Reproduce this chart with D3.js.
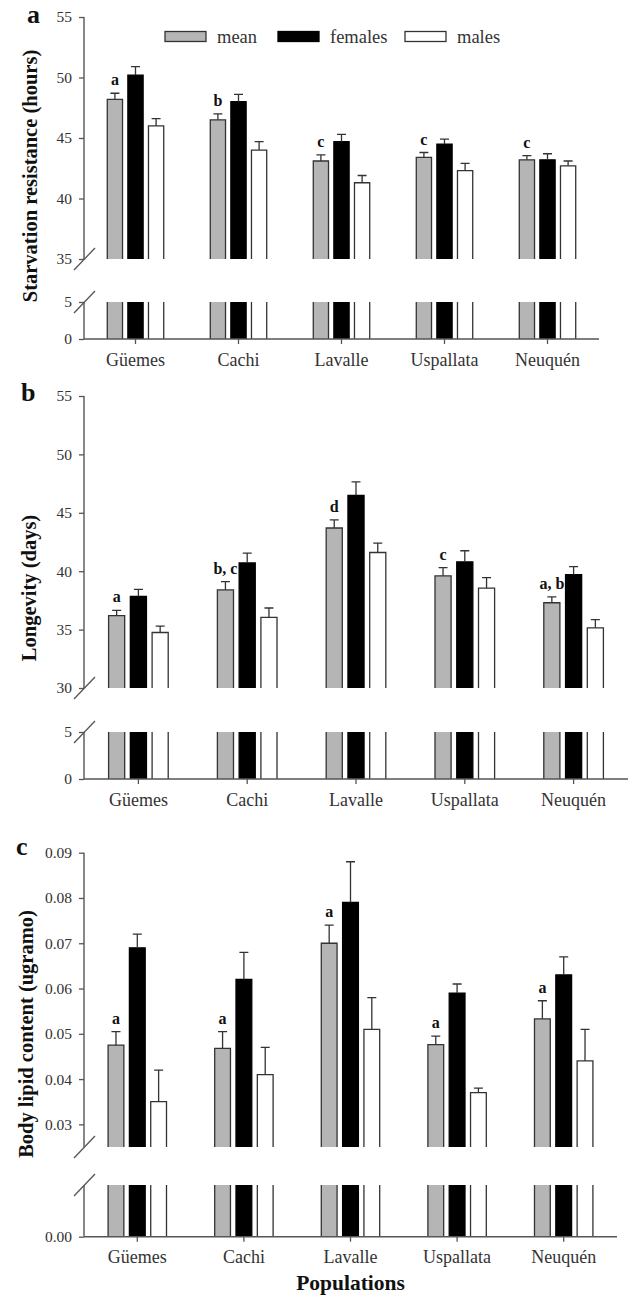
<!DOCTYPE html>
<html>
<head>
<meta charset="utf-8">
<script src="https://cdn.jsdelivr.net/npm/d3@7"></script>
<style>
  body { margin: 0; background: #fff; }
  svg { display: block; font-family: "Liberation Serif", "DejaVu Serif", serif; }
</style>
</head>
<body>
<svg id="chart" width="630" height="1296"></svg>
<script>
// Populations and series
const populations = ['Güemes', 'Cachi', 'Lavalle', 'Uspallata', 'Neuquén'];
const seriesNames = ['mean', 'females', 'males'];

// Panel a: starvation resistance (hours)
const starvMean = [48.2, 46.5, 43.1, 43.4, 43.2];
const starvFemales = [50.2, 48.0, 44.7, 44.5, 43.2];
const starvMales = [46.0, 44.0, 41.3, 42.3, 42.7];
const starvMeanSE = [0.5, 0.5, 0.5, 0.4, 0.35];
const starvFemalesSE = [0.7, 0.6, 0.6, 0.4, 0.5];
const starvMalesSE = [0.6, 0.7, 0.6, 0.6, 0.4];
const starvLetters = ['a', 'b', 'c', 'c', 'c'];
const starvTicksUpper = [35, 40, 45, 50, 55];
const starvTicksLower = [0, 5];

// Panel b: longevity (days)
const longMean = [36.2, 38.4, 43.7, 39.6, 37.3];
const longFemales = [37.85, 40.7, 46.5, 40.8, 39.7];
const longMales = [34.75, 36.05, 41.6, 38.55, 35.15];
const longMeanSE = [0.45, 0.7, 0.7, 0.7, 0.5];
const longFemalesSE = [0.6, 0.85, 1.15, 0.95, 0.7];
const longMalesSE = [0.55, 0.8, 0.8, 0.9, 0.7];
const longLetters = ['a', 'b, c', 'd', 'c', 'a, b'];
const longTicksUpper = [30, 35, 40, 45, 50, 55];
const longTicksLower = [0, 5];

// Panel c: body lipid content (ugramo)
const lipidMean = [0.0475, 0.0468, 0.070, 0.0476, 0.0533];
const lipidFemales = [0.069, 0.062, 0.079, 0.059, 0.063];
const lipidMales = [0.035, 0.041, 0.051, 0.037, 0.044];
const lipidMeanSE = [0.003, 0.0037, 0.004, 0.0019, 0.004];
const lipidFemalesSE = [0.003, 0.006, 0.009, 0.002, 0.004];
const lipidMalesSE = [0.007, 0.006, 0.007, 0.001, 0.007];
const lipidLetters = ['a', 'a', 'a', 'a', 'a'];
const lipidTicksUpper = [0.03, 0.04, 0.05, 0.06, 0.07, 0.08, 0.09];
const lipidTicksLower = [0];

const fills = { mean: '#b5b5b5', females: '#000', males: '#fff' };
const axisColor = '#555';
const textColor = '#333';

const svg = d3.select('#chart');

function buildRows(means, fem, mal, seM, seF, seMa) {
  return populations.map((p, i) => ({
    pop: p,
    values: [
      { key: 'mean', v: means[i], se: seM[i] },
      { key: 'females', v: fem[i], se: seF[i] },
      { key: 'males', v: mal[i], se: seMa[i] }
    ]
  }));
}

function drawPanel(cfg) {
  const g = svg.append('g');
  const x = d3.scaleBand().domain(populations).range([cfg.x0, cfg.x1]);
  const xs = d3.scaleBand().domain(seriesNames)
    .range([-x.bandwidth() * 0.3, x.bandwidth() * 0.3])
    .paddingInner(0.26).paddingOuter(0.13);

  const yUp = d3.scaleLinear().domain(cfg.upDomain).range([cfg.upBottom, cfg.upTop]);
  const yLo = d3.scaleLinear().domain(cfg.loDomain).range([cfg.loBottom, cfg.loTop]);

  const rows = cfg.rows;

  // bars
  rows.forEach((r, i) => {
    const cx = x(r.pop) + x.bandwidth() / 2;
    r.values.forEach(d => {
      const bx = cx + xs(d.key);
      const bw = xs.bandwidth();
      // upper piece
      const yTop = yUp(d.v);
      g.append('rect').attr('x', bx).attr('y', yTop)
        .attr('width', bw).attr('height', cfg.upBottom - yTop)
        .attr('fill', fills[d.key]);
      const edge = d.key === 'females' ? '#000' : '#333';
      g.append('path')
        .attr('d', `M${bx},${cfg.upBottom}V${yTop}H${bx + bw}V${cfg.upBottom}`)
        .attr('fill', 'none').attr('stroke', edge).attr('stroke-width', 1.3);
      // lower piece
      g.append('rect').attr('x', bx).attr('y', cfg.loTop)
        .attr('width', bw).attr('height', cfg.loBottom - cfg.loTop)
        .attr('fill', fills[d.key]);
      g.append('path')
        .attr('d', `M${bx},${cfg.loTop}V${cfg.loBottom}M${bx + bw},${cfg.loTop}V${cfg.loBottom}`)
        .attr('fill', 'none').attr('stroke', edge).attr('stroke-width', 1.3);
      // error bar (upper only)
      const yErr = yUp(d.v + d.se);
      const ex = bx + bw / 2;
      g.append('path')
        .attr('d', `M${ex},${yTop}V${yErr}M${ex - 4.5},${yErr}H${ex + 4.5}`)
        .attr('fill', 'none').attr('stroke', '#333').attr('stroke-width', 1.3);
    });
    // significance letter above mean bar
    const m = r.values[0];
    g.append('text')
      .attr('x', cx + xs('mean') + xs.bandwidth() / 2)
      .attr('y', yUp(m.v + m.se) - 8)
      .attr('text-anchor', 'middle')
      .attr('font-weight', 'bold')
      .attr('font-size', 16)
      .attr('fill', '#111')
      .text(cfg.letters[i]);
  });

  // y axis upper
  const axUp = g.append('g').attr('transform', `translate(${cfg.x0},0)`)
    .call(d3.axisLeft(yUp).tickValues(cfg.upTicks).tickSize(5).tickPadding(7)
      .tickFormat(cfg.fmt));
  // y axis lower
  const axLo = g.append('g').attr('transform', `translate(${cfg.x0},0)`)
    .call(d3.axisLeft(yLo).tickValues(cfg.loTicks).tickSize(5).tickPadding(7)
      .tickFormat(cfg.fmt));
  [axUp, axLo].forEach(ax => {
    ax.select('.domain').remove();
    ax.selectAll('line').attr('stroke', axisColor).attr('stroke-width', 1.3);
    ax.selectAll('text').attr('fill', textColor).attr('font-size', 15.5)
      .attr('font-family', '"Liberation Serif", serif');
  });
  g.append('line').attr('x1', cfg.x0).attr('x2', cfg.x0)
    .attr('y1', cfg.upTop).attr('y2', cfg.upBottom)
    .attr('stroke', axisColor).attr('stroke-width', 1.4);
  g.append('line').attr('x1', cfg.x0).attr('x2', cfg.x0)
    .attr('y1', cfg.loTop).attr('y2', cfg.loBottom)
    .attr('stroke', axisColor).attr('stroke-width', 1.4);

  // break marks
  [cfg.upBottom, cfg.loTop].forEach(yy => {
    g.append('line')
      .attr('x1', cfg.x0 - 10).attr('y1', yy + 11)
      .attr('x2', cfg.x0 + 11).attr('y2', yy - 11)
      .attr('stroke', axisColor).attr('stroke-width', 1.3);
  });

  // x axis
  const axX = g.append('g').attr('transform', `translate(0,${cfg.loBottom})`)
    .call(d3.axisBottom(x).tickSize(5).tickPadding(9));
  axX.select('.domain').attr('d', `M${cfg.x0},0H${cfg.x1}`)
    .attr('stroke', axisColor).attr('stroke-width', 1.4);
  axX.selectAll('line').attr('stroke', axisColor).attr('stroke-width', 1.3);
  axX.selectAll('text').attr('fill', textColor).attr('font-size', 18)
    .attr('font-family', '"Liberation Serif", serif');

  // y title
  g.append('text')
    .attr('transform', `translate(${cfg.titleX},${cfg.titleY}) rotate(-90)`)
    .attr('text-anchor', 'middle')
    .attr('dy', '0.35em')
    .attr('font-weight', 'bold')
    .attr('font-size', 20.5)
    .attr('fill', '#111')
    .text(cfg.title);

  // panel letter
  g.append('text')
    .attr('x', cfg.letterX).attr('y', cfg.letterY)
    .attr('font-weight', 'bold').attr('font-size', 26).attr('fill', '#111')
    .text(cfg.panel);
}

drawPanel({
  panel: 'a', letterX: 27, letterY: 23,
  x0: 84, x1: 599,
  upDomain: [35, 55], upTop: 17, upBottom: 259,
  loDomain: [0, 5], loTop: 302, loBottom: 339,
  upTicks: starvTicksUpper, loTicks: starvTicksLower,
  fmt: d3.format('d'),
  rows: buildRows(starvMean, starvFemales, starvMales, starvMeanSE, starvFemalesSE, starvMalesSE),
  letters: starvLetters,
  title: 'Starvation resistance (hours)', titleX: 30, titleY: 176
});

drawPanel({
  panel: 'b', letterX: 21, letterY: 401,
  x0: 84, x1: 628,
  upDomain: [30, 55], upTop: 396, upBottom: 688,
  loDomain: [0, 5], loTop: 732, loBottom: 779,
  upTicks: longTicksUpper, loTicks: longTicksLower,
  fmt: d3.format('d'),
  rows: buildRows(longMean, longFemales, longMales, longMeanSE, longFemalesSE, longMalesSE),
  letters: longLetters,
  title: 'Longevity (days)', titleX: 29, titleY: 588
});

drawPanel({
  panel: 'c', letterX: 16, letterY: 855,
  x0: 84, x1: 617,
  upDomain: [0.025, 0.09], upTop: 852.7, upBottom: 1147,
  loDomain: [0, 0.01], loTop: 1185, loBottom: 1236.7,
  upTicks: lipidTicksUpper, loTicks: lipidTicksLower,
  fmt: d3.format('.2f'),
  rows: buildRows(lipidMean, lipidFemales, lipidMales, lipidMeanSE, lipidFemalesSE, lipidMalesSE),
  letters: lipidLetters,
  title: 'Body lipid content (ugramo)', titleX: 26, titleY: 1034
});

// x title
svg.append('text')
  .attr('x', (84 + 617) / 2).attr('y', 1290)
  .attr('text-anchor', 'middle')
  .attr('font-weight', 'bold').attr('font-size', 21.5).attr('fill', '#111')
  .text('Populations');

// legend (panel a)
const legendX = [165, 278, 405];
const lg = svg.append('g');
seriesNames.forEach((s, i) => {
  lg.append('rect')
    .attr('x', legendX[i]).attr('y', 31.5)
    .attr('width', 41).attr('height', 10)
    .attr('fill', fills[s])
    .attr('stroke', s === 'females' ? '#000' : '#333').attr('stroke-width', 1.3);
  lg.append('text')
    .attr('x', legendX[i] + 52).attr('y', 42.5)
    .attr('font-size', 18.5).attr('fill', textColor)
    .text(s);
});
</script>
</body>
</html>
